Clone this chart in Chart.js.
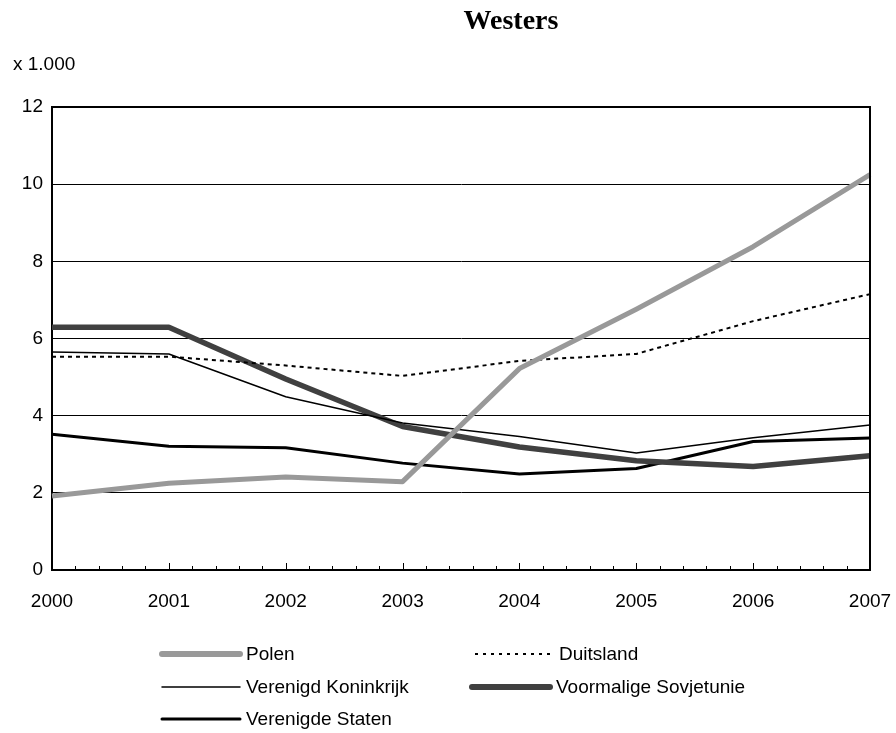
<!DOCTYPE html>
<html>
<head>
<meta charset="utf-8">
<script src="https://cdn.jsdelivr.net/npm/chart.js@4/dist/chart.umd.min.js"></script>
<style>
  html, body { margin: 0; padding: 0; background: #fff; }
  #wrap { width: 896px; height: 733px; position: relative; }
</style>
</head>
<body>
<div id="wrap"><canvas id="westersChart"></canvas></div>
<script>
// data (x 1.000)
const years = ['2000', '2001', '2002', '2003', '2004', '2005', '2006', '2007'];
const polen = [1.92, 2.25, 2.41, 2.29, 5.22, 6.76, 8.38, 10.25];
const duitsland = [5.53, 5.53, 5.3, 5.03, 5.42, 5.6, 6.45, 7.15];
const verenigdKoninkrijk = [5.65, 5.6, 4.49, 3.81, 3.46, 3.03, 3.43, 3.76];
const sovjetunie = [6.29, 6.29, 4.95, 3.72, 3.19, 2.83, 2.68, 2.96];
const verenigdeStaten = [3.52, 3.21, 3.17, 2.77, 2.49, 2.63, 3.33, 3.42];
const yMin = 0, yMax = 12, yStep = 2;

const sansFont = "'Liberation Sans', Arial, sans-serif";

// ticks pointing into the plot, with 4 minor ticks between years
const innerTicks = {
    id: 'innerTicks',
    afterDraw(chart) {
        const ctx = chart.ctx;
        const x = chart.scales.x;
        const area = chart.chartArea;
        ctx.save();
        ctx.strokeStyle = '#000';
        ctx.lineWidth = 1;
        ctx.beginPath();
        for (let i = 0; i < years.length; i++) {
            const px = x.getPixelForValue(i);
            ctx.moveTo(Math.round(px) + 0.5, area.bottom);
            ctx.lineTo(Math.round(px) + 0.5, area.bottom - 7);
            if (i < years.length - 1) {
                const next = x.getPixelForValue(i + 1);
                for (let k = 1; k < 5; k++) {
                    const mx = Math.round(px + (next - px) * k / 5) + 0.5;
                    ctx.moveTo(mx, area.bottom);
                    ctx.lineTo(mx, area.bottom - 4);
                }
            }
        }
        ctx.stroke();
        // frame top and right
        ctx.lineWidth = 2;
        ctx.beginPath();
        ctx.moveTo(area.left, area.top);
        ctx.lineTo(area.right, area.top);
        ctx.lineTo(area.right, area.bottom);
        ctx.stroke();
        ctx.restore();
    }
};

// title, unit label and a two column legend
const extras = {
    id: 'extras',
    afterDraw(chart) {
        const ctx = chart.ctx;
        ctx.save();
        ctx.fillStyle = '#000';
        ctx.textAlign = 'center';
        ctx.textBaseline = 'alphabetic';
        ctx.font = "bold 28px 'Liberation Serif', 'Times New Roman', serif";
        ctx.fillText('Westers', 511, 29);
        ctx.textAlign = 'left';
        ctx.font = '19px ' + sansFont;
        ctx.fillText('x 1.000', 13, 70);

        const slots = [
            [162, 654], [475, 654],
            [162, 687], [472, 687],
            [162, 719]
        ];
        chart.data.datasets.forEach((ds, i) => {
            const [lx, ly] = slots[i];
            ctx.save();
            ctx.strokeStyle = ds.borderColor;
            ctx.lineWidth = ds.legendWidth;
            ctx.lineCap = ds.borderDash ? 'butt' : 'round';
            ctx.setLineDash(ds.borderDash ? [3, 5] : []);
            ctx.beginPath();
            ctx.moveTo(lx, ly);
            ctx.lineTo(lx + 78, ly);
            ctx.stroke();
            ctx.restore();
            ctx.textBaseline = 'middle';
            ctx.fillText(ds.label, lx + 84, ly + 1);
        });
        ctx.restore();
    }
};

const ctx = document.getElementById('westersChart').getContext('2d');
window.westersChart = new Chart(ctx, {
    type: 'line',
    data: {
        labels: years,
        datasets: [{
            label: 'Polen',
            data: polen,
            borderColor: '#999999',
            borderWidth: 5,
            legendWidth: 6
        }, {
            label: 'Duitsland',
            data: duitsland,
            borderColor: '#000000',
            borderWidth: 2,
            borderDash: [4, 4],
            legendWidth: 2
        }, {
            label: 'Verenigd Koninkrijk',
            data: verenigdKoninkrijk,
            borderColor: '#000000',
            borderWidth: 1.5,
            legendWidth: 1.5
        }, {
            label: 'Voormalige Sovjetunie',
            data: sovjetunie,
            borderColor: '#404040',
            borderWidth: 5.5,
            legendWidth: 6
        }, {
            label: 'Verenigde Staten',
            data: verenigdeStaten,
            borderColor: '#000000',
            borderWidth: 3,
            legendWidth: 3
        }]
    },
    options: {
        responsive: true,
        maintainAspectRatio: false,
        animation: false,
        events: [],
        layout: { padding: { top: 107, right: 26, left: 0, bottom: 0 } },
        elements: {
            point: { radius: 0 },
            line: { tension: 0, borderJoinStyle: 'round', borderCapStyle: 'butt', fill: false }
        },
        plugins: {
            legend: { display: false },
            title: { display: false },
            tooltip: { enabled: false }
        },
        scales: {
            x: {
                offset: false,
                grid: { display: false, drawTicks: false },
                border: { display: true, color: '#000', width: 2 },
                ticks: {
                    color: '#000',
                    font: { family: sansFont, size: 19 },
                    padding: 20,
                    maxRotation: 0,
                    autoSkip: false
                },
                afterFit(scale) {
                    scale.height = 163;
                    scale.paddingLeft = 0;
                    scale.paddingRight = 0;
                }
            },
            y: {
                min: yMin,
                max: yMax,
                grid: { color: '#000', lineWidth: 1, drawTicks: false },
                border: { display: true, color: '#000', width: 2 },
                ticks: {
                    stepSize: yStep,
                    color: '#000',
                    font: { family: sansFont, size: 19 },
                    padding: 9
                },
                afterFit(scale) {
                    scale.width = 52;
                    scale.paddingTop = 0;
                    scale.paddingBottom = 0;
                }
            }
        }
    },
    plugins: [innerTicks, extras]
});
</script>
</body>
</html>
